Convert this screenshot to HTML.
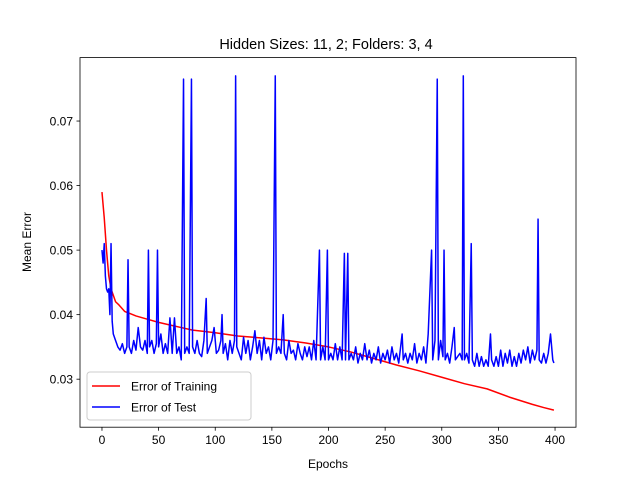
<!DOCTYPE html>
<html><head><meta charset="utf-8"><style>
html,body{margin:0;padding:0;background:#fff;}
svg{display:block;font-family:"Liberation Sans","DejaVu Sans",sans-serif;}
</style></head><body>
<svg id="chart" width="640" height="480" viewBox="0 0 640 480">
<rect x="0" y="0" width="640" height="480" fill="#fff"/>
<text x="326" y="49" font-size="14.5" text-anchor="middle">Hidden Sizes: 11, 2; Folders: 3, 4</text>
<g id="plot"></g>
<text x="328" y="468" font-size="12" text-anchor="middle">Epochs</text>
<text x="31" y="242" font-size="12" text-anchor="middle" transform="rotate(-90 31 242)">Mean Error</text>
</svg>
<script>
const xTicks=[0,50,100,150,200,250,300,350,400];
const yTicks=[0.03,0.04,0.05,0.06,0.07];
const yTickLabels=["0.03","0.04","0.05","0.06","0.07"];
const trainEpochs=[0,2,4,6,8,10,12,15,20,30,40,50,60,70,80,90,100,120,140,160,180,200,220,240,260,280,300,320,340,360,380,390,399];
const trainValues=[0.059,0.055,0.050,0.046,0.044,0.043,0.042,0.0415,0.0405,0.0398,0.0393,0.0388,0.0384,0.0380,0.0376,0.0374,0.0372,0.0367,0.0364,0.0361,0.0356,0.0350,0.0342,0.0332,0.0322,0.0313,0.0303,0.0293,0.0285,0.0272,0.0261,0.0256,0.0252];
const testEpochs=[0,1,2,3,4,5,6,7,8,9,10,12,14,16,18,20,22,23,24,26,28,30,32,34,36,38,40,41,42,44,46,48,49,50,52,54,56,58,60,62,64,66,68,70,72,73,75,77,79,80,82,84,86,88,90,92,93,95,97,99,101,103,105,106,107,109,111,113,115,117,118,119,121,123,125,127,129,131,133,135,137,139,141,143,145,147,149,151,153,154,156,158,160,161,163,165,167,169,171,173,175,177,179,181,183,185,187,189,192,193,195,197,199,200,202,204,206,208,210,212,214,215,217,218,220,222,224,226,228,230,232,234,236,238,240,242,244,246,248,250,252,254,256,258,260,262,265,266,268,270,272,274,276,278,280,282,284,286,288,291,292,294,296,297,299,301,302,303,305,307,309,311,312,314,316,318,319,320,322,324,326,327,329,331,333,335,337,339,341,343,344,346,348,350,352,354,356,358,360,362,364,366,368,370,372,374,376,378,380,382,384,385,386,388,390,392,394,396,397,398,399];
const testValues=[0.050,0.048,0.051,0.046,0.044,0.0435,0.044,0.040,0.051,0.039,0.037,0.036,0.035,0.0345,0.0355,0.034,0.035,0.0485,0.035,0.034,0.036,0.0345,0.038,0.035,0.0345,0.036,0.034,0.050,0.035,0.036,0.034,0.0355,0.050,0.035,0.037,0.034,0.0355,0.034,0.0395,0.034,0.0395,0.034,0.035,0.033,0.0765,0.034,0.035,0.034,0.0765,0.035,0.034,0.036,0.034,0.0335,0.036,0.0425,0.034,0.035,0.036,0.038,0.034,0.0345,0.036,0.040,0.034,0.0355,0.033,0.036,0.034,0.036,0.077,0.035,0.034,0.033,0.0365,0.034,0.036,0.033,0.035,0.0375,0.034,0.036,0.033,0.0365,0.034,0.035,0.033,0.036,0.077,0.034,0.035,0.034,0.040,0.034,0.033,0.036,0.034,0.0345,0.033,0.0355,0.034,0.033,0.035,0.0335,0.035,0.033,0.036,0.033,0.050,0.033,0.035,0.033,0.050,0.033,0.034,0.033,0.0355,0.033,0.035,0.033,0.0495,0.033,0.0495,0.033,0.034,0.033,0.035,0.0325,0.034,0.033,0.0355,0.033,0.0345,0.0325,0.034,0.033,0.035,0.0325,0.034,0.033,0.0345,0.0325,0.035,0.033,0.034,0.0325,0.037,0.033,0.034,0.0325,0.034,0.033,0.0355,0.0325,0.034,0.033,0.035,0.0325,0.037,0.050,0.033,0.036,0.0765,0.033,0.036,0.0335,0.050,0.033,0.034,0.0325,0.035,0.038,0.033,0.0335,0.034,0.033,0.077,0.033,0.034,0.0325,0.051,0.033,0.032,0.034,0.032,0.0335,0.032,0.033,0.032,0.037,0.033,0.032,0.0335,0.032,0.0345,0.032,0.034,0.0325,0.0345,0.032,0.0335,0.032,0.034,0.0325,0.0345,0.033,0.035,0.0325,0.0345,0.033,0.0345,0.0548,0.033,0.0325,0.034,0.0325,0.034,0.037,0.035,0.033,0.0325];

const L=80,R=576,T=57.6,B=427.2;
const xMin=-19.4,xMax=418.5,yMin=0.02256,yMax=0.07983;
const xs=v=>L+(v-xMin)/(xMax-xMin)*(R-L);
const ys=v=>B-(v-yMin)/(yMax-yMin)*(B-T);
const NS="http://www.w3.org/2000/svg";
const g=document.getElementById('plot');
function mk(tag,attrs,parent){const e=document.createElementNS(NS,tag);for(const k in attrs)e.setAttribute(k,attrs[k]);(parent||g).appendChild(e);return e;}

function line(ex,vals,color,name){
  const pts=ex.map((e,i)=>xs(e).toFixed(2)+','+ys(vals[i]).toFixed(2)).join(' ');
  const p=mk('polyline',{points:pts,fill:'none',stroke:color,'stroke-width':1.5,'stroke-linejoin':'round'});
  
  
}
line(trainEpochs,trainValues,'#ff0000','training-error-line');
line(testEpochs,testValues,'#0000ff','test-error-line');

const frame=mk('rect',{x:L,y:T,width:R-L,height:B-T,fill:'none',stroke:'#000','stroke-width':0.8});



xTicks.forEach(t=>{
  const x=xs(t);
  mk('line',{x1:x,x2:x,y1:B,y2:B+3.5,stroke:'#000','stroke-width':0.8});
  const tx=mk('text',{x:x,y:B+17,'font-size':12,'text-anchor':'middle'});
  tx.textContent=String(t);
  
  
});
yTicks.forEach((t,i)=>{
  const y=ys(t);
  mk('line',{x1:L-3.5,x2:L,y1:y,y2:y,stroke:'#000','stroke-width':0.8});
  const tx=mk('text',{x:L-7,y:y+4.5,'font-size':12,'text-anchor':'end'});
  tx.textContent=yTickLabels[i];
  
  
});

const lg=mk('g',{});


mk('rect',{x:87,y:372,width:164,height:48,rx:3,fill:'#fff','fill-opacity':0.8,stroke:'#ccc','stroke-width':1},lg);
[['Error of Training','#ff0000',386],['Error of Test','#0000ff',407]].forEach(([lab,c,y])=>{
  const e=mk('g',{},lg);
  
  
  mk('line',{x1:92,x2:120,y1:y,y2:y,stroke:c,'stroke-width':1.5},e);
  const t=mk('text',{x:131,y:y+4.5,'font-size':12},e);
  t.textContent=lab;
});
</script>
</body></html>
